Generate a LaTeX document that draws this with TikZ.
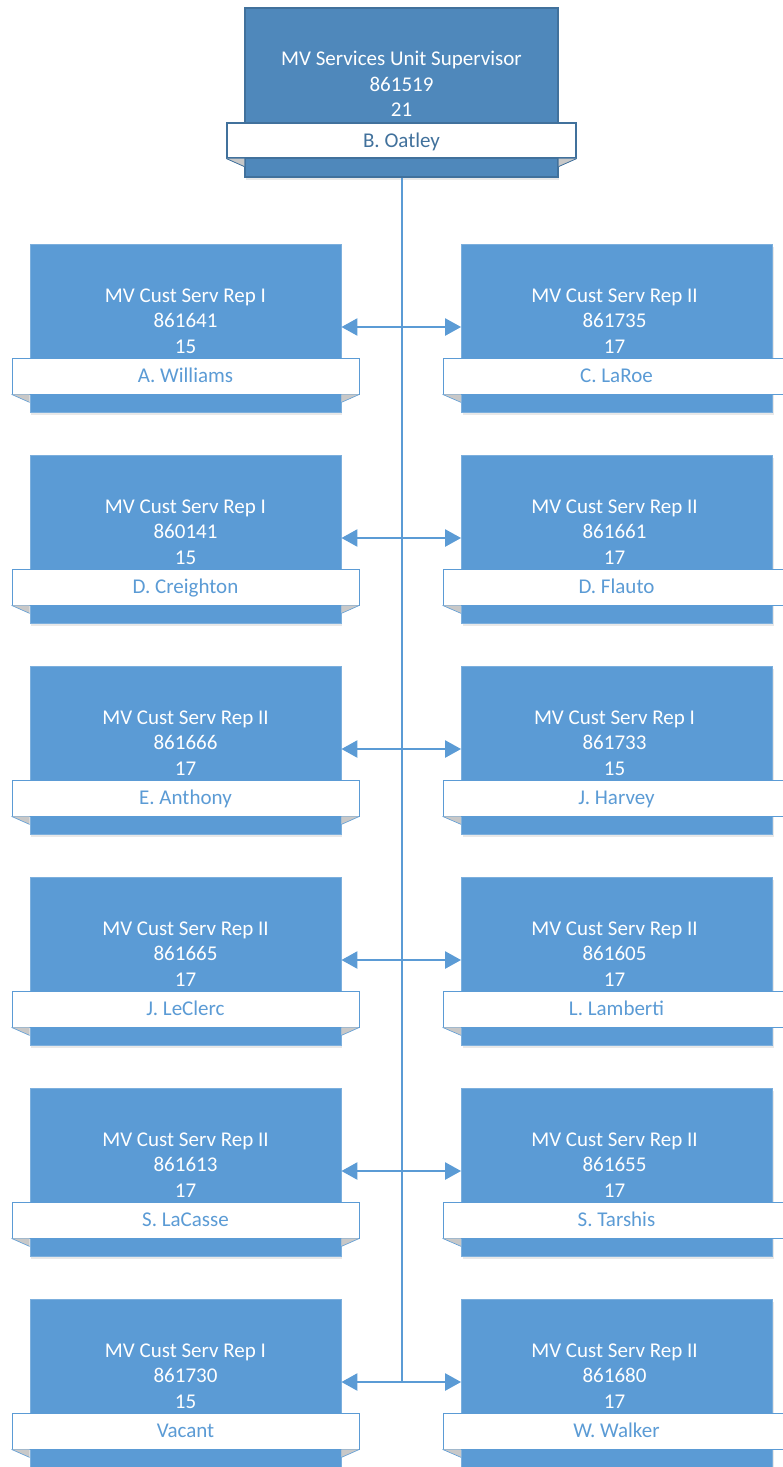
\documentclass[tikz,border=0pt]{standalone}
\usepackage{fontspec}
\setmainfont{Carlito}
\usetikzlibrary{arrows.meta,shadows}
\definecolor{bx}{HTML}{5B9BD5}
\definecolor{bxtop}{HTML}{4F88BB}
\definecolor{bxdark}{HTML}{41719C}
\definecolor{fold}{HTML}{C8C8C8}
\tikzset{
  box/.style={fill=bx, draw=bx!80!white, line width=0.8pt, minimum width=311pt, minimum height=168pt, inner sep=0pt,
     drop shadow={shadow xshift=1pt, shadow yshift=-3pt, opacity=0.18}},
  topbox/.style={fill=bxtop, draw=bxdark, line width=1.2pt, minimum width=313pt, minimum height=169pt, inner sep=0pt,
     drop shadow={shadow xshift=1pt, shadow yshift=-3pt, opacity=0.18}},
  title/.style={text=white, font=\fontsize{21}{25.5}\selectfont, align=center, inner sep=0pt},
  band/.style={fill=white, draw=bx, line width=0.8pt, minimum width=347pt, minimum height=36pt, inner sep=0pt,
     text=bx, font=\fontsize{21}{25}\selectfont, text height=14pt, text depth=1pt},
  topband/.style={band, draw=bxdark, text=bxdark, line width=1.2pt, minimum width=349pt, minimum height=35pt},
  conn/.style={draw=bx, line width=2.4pt},
  arr/.style={conn, -{Triangle[length=16pt,width=17pt]}},
}
\begin{document}
\begin{tikzpicture}[x=1pt,y=-1pt]
\useasboundingbox (0,0) rectangle (783,1467);
\clip (0,0) rectangle (783,1467);
% top box
\node[topbox] (T) at (401.5,92.5) {};
\node[title] (Tt) at (401.5,84) {MV Services Unit Supervisor\\861519\\21};
\node[topband] (Tn) at (401.5,140.5) {B. Oatley};
\fill[fill=fold] (Tn.south west) -- (Tn.south west -| T.west) -- ++(0,8) -- cycle;
\draw[draw=bxdark, line width=0.8pt] (Tn.south west) -- ([yshift=-8pt]Tn.south west -| T.west);
\fill[fill=fold] (Tn.south east) -- (Tn.south east -| T.east) -- ++(0,8) -- cycle;
\draw[draw=bxdark, line width=0.8pt] (Tn.south east) -- ([yshift=-8pt]Tn.south east -| T.east);
% rows
\foreach \i/\lt/\lp/\lg/\ln/\rt/\rp/\rg/\rn in {
 1/MV Cust Serv Rep I/861641/15/A. Williams/MV Cust Serv Rep II/861735/17/C. LaRoe,
 2/MV Cust Serv Rep I/860141/15/D. Creighton/MV Cust Serv Rep II/861661/17/D. Flauto,
 3/MV Cust Serv Rep II/861666/17/E. Anthony/MV Cust Serv Rep I/861733/15/J. Harvey,
 4/MV Cust Serv Rep II/861665/17/J. LeClerc/MV Cust Serv Rep II/861605/17/L. Lamberti,
 5/MV Cust Serv Rep II/861613/17/S. LaCasse/MV Cust Serv Rep II/861655/17/S. Tarshis,
 6/MV Cust Serv Rep I/861730/15/Vacant/MV Cust Serv Rep II/861680/17/W. Walker}{
  \pgfmathsetmacro{\yt}{244+211*(\i-1)}
  \node[box] (L\i) at (185.5,\yt+84) {};
  \node[title] (L\i t) at (185.5,\yt+77) {\lt\\\lp\\\lg};
  \node[band] (L\i n) at (185.5,\yt+132) {\ln};
  \fill[fold] (L\i n.south west) -- (L\i n.south west -| L\i.west) -- ++(0,8) -- cycle;
  \draw[draw=bx, line width=0.6pt] (L\i n.south west) -- ([yshift=-8pt]L\i n.south west -| L\i.west);
  \fill[fold] (L\i n.south east) -- (L\i n.south east -| L\i.east) -- ++(0,8) -- cycle;
  \draw[draw=bx, line width=0.6pt] (L\i n.south east) -- ([yshift=-8pt]L\i n.south east -| L\i.east);
  \node[box] (R\i) at (617,\yt+84) {};
  \node[title] (R\i t) at (614.5,\yt+77) {\rt\\\rp\\\rg};
  \node[band] (R\i n) at (616.5,\yt+132) {\rn};
  \fill[fold] (R\i n.south west) -- (R\i n.south west -| R\i.west) -- ++(0,8) -- cycle;
  \draw[draw=bx, line width=0.6pt] (R\i n.south west) -- ([yshift=-8pt]R\i n.south west -| R\i.west);
  \coordinate (J\i) at (402,\yt+83);
}
\foreach \i in {1,...,6}{
  \draw[arr] (J\i) -- (J\i -| L\i.east);
  \draw[arr] (J\i) -- (J\i -| R\i.west);
}
\draw[conn] (T.south -| J1) -- (J6);
\end{tikzpicture}
\end{document}
